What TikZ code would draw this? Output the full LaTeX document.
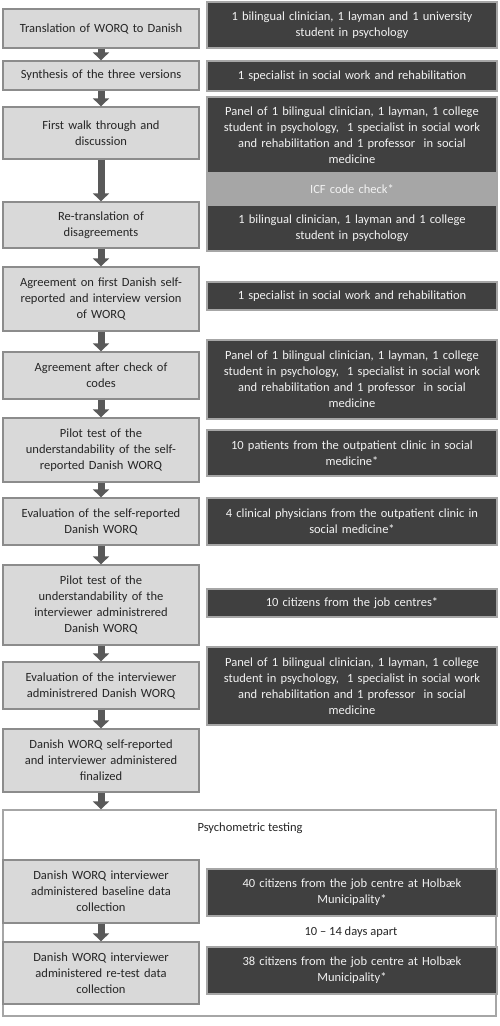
\documentclass[tikz,border=0pt]{standalone}
\usepackage{fontspec}
\setmainfont{Carlito}
\usetikzlibrary{arrows.meta}
\definecolor{lbox}{HTML}{D9D9D9}
\definecolor{lline}{HTML}{8C8C8C}
\definecolor{dbox}{HTML}{404040}
\definecolor{dline}{HTML}{A6A6A6}
\definecolor{icf}{HTML}{A6A6A6}
\definecolor{arr}{HTML}{595959}
\definecolor{ltext}{HTML}{262626}
\definecolor{dtext}{HTML}{F2F2F2}
\begin{document}
\begin{tikzpicture}[x=1pt,y=-1pt,
  every node/.style={font=\fontsize{12.5}{16}\selectfont, inner sep=0pt, align=center},
  stepbox/.style={draw=lline, line width=1.3pt, fill=lbox, text=ltext, minimum width=196pt, text width=186pt},
  infobox/.style={draw=dline, line width=1.3pt, fill=dbox, text=dtext, minimum width=290pt, text width=278pt},
  icfbox/.style={draw=dline, line width=1.3pt, fill=icf, text=dtext, minimum width=290pt, text width=278pt},
  outerbox/.style={draw=dline, line width=1.3pt, fill=white},
  flow/.style={draw=arr, line width=7pt, -{Triangle[width=16pt,length=8pt]}}
]
\useasboundingbox (0,0) rectangle (500,1026);
\fill[white] (0,0) rectangle (500,1026);

\node[outerbox, minimum width=493pt, minimum height=206pt] (psy) at (249.5,913) {};
\node[text=ltext] (psylab) at (250,828) {Psychometric testing};

% left column
\node[stepbox, minimum height=39pt] (L1) at (101,28.5) {Translation of WORQ to Danish};
\node[stepbox, minimum height=29pt] (L2) at (101,75.5) {Synthesis of the three versions};
\node[stepbox, minimum height=52pt] (L3) at (101,133) {First walk through and\\discussion};
\node[stepbox, minimum height=46pt] (L4) at (101,225) {Re-translation of\\disagreements};
\node[stepbox, minimum height=64pt] (L5) at (101,299) {Agreement on first Danish self-\\reported and interview version\\of WORQ};
\node[stepbox, minimum height=47pt] (L6) at (101,375.5) {Agreement after check of\\codes};
\node[stepbox, minimum height=64pt] (L7) at (101,450) {Pilot test of the\\understandability of the self-\\reported Danish WORQ};
\node[stepbox, minimum height=47pt] (L8) at (101,521.5) {Evaluation of the self-reported\\Danish WORQ};
\node[stepbox, minimum height=80pt] (L9) at (101,605) {Pilot test of the\\understandability of the\\interviewer administrered\\Danish WORQ};
\node[stepbox, minimum height=47pt] (L10) at (101,685.5) {Evaluation of the interviewer\\administrered Danish WORQ};
\node[stepbox, minimum height=63pt] (L11) at (101,760.5) {Danish WORQ self-reported\\and interviewer administered\\finalized};
\node[stepbox, minimum height=63pt] (L12) at (101,891.5) {Danish WORQ interviewer\\administered baseline data\\collection};
\node[stepbox, minimum height=62pt] (L13) at (101,973) {Danish WORQ interviewer\\administered re-test data\\collection};

% right column
\node[infobox, minimum height=46pt] (R1) at (352,25) {1 bilingual clinician, 1 layman and 1 university\\student in psychology};
\node[infobox, minimum height=30pt] (R2) at (352,76) {1 specialist in social work and rehabilitation};
\node[infobox, minimum height=76pt] (R3) at (352,135) {Panel of 1 bilingual clinician, 1 layman, 1 college\\student in psychology,\ \ 1 specialist in social work\\and rehabilitation and 1 professor\ \ in social\\medicine};
\node[icfbox, minimum height=32pt] (ICF) at (352,189) {ICF code check*};
\node[infobox, minimum height=46pt] (R4) at (352,228) {1 bilingual clinician, 1 layman and 1 college\\student in psychology};
\node[infobox, minimum height=28pt] (R5) at (352,296) {1 specialist in social work and rehabilitation};
\node[infobox, minimum height=79pt] (R6) at (352,379.5) {Panel of 1 bilingual clinician, 1 layman, 1 college\\student in psychology,\ \ 1 specialist in social work\\and rehabilitation and 1 professor\ \ in social\\medicine};
\node[infobox, minimum height=46pt] (R7) at (352,453) {10 patients from the outpatient clinic in social\\medicine*};
\node[infobox, minimum height=47pt] (R8) at (352,521.5) {4 clinical physicians from the outpatient clinic in\\social medicine*};
\node[infobox, minimum height=28pt] (R9) at (352,603) {10 citizens from the job centres*};
\node[infobox, minimum height=78pt] (R10) at (352,686) {Panel of 1 bilingual clinician, 1 layman, 1 college\\student in psychology,\ \ 1 specialist in social work\\and rehabilitation and 1 professor\ \ in social\\medicine};
\node[infobox, minimum height=47pt] (R12) at (352,892.5) {40 citizens from the job centre at Holbæk\\Municipality*};
\node[text=ltext] (gap) at (351,932) {10 – 14 days apart};
\node[infobox, minimum height=47pt] (R13) at (352,970.5) {38 citizens from the job centre at Holbæk\\Municipality*};

% arrows
\draw[flow] (L1.south) -- (L2.north);
\draw[flow] (L2.south) -- (L3.north);
\draw[flow] (L3.south) -- (L4.north);
\draw[flow] (L4.south) -- (L5.north);
\draw[flow] (L5.south) -- (L6.north);
\draw[flow] (L6.south) -- (L7.north);
\draw[flow] (L7.south) -- (L8.north);
\draw[flow] (L8.south) -- (L9.north);
\draw[flow] (L9.south) -- (L10.north);
\draw[flow] (L10.south) -- (L11.north);
\draw[flow] (L11.south) -- (L11.south |- psy.north);
\draw[flow] (L12.south) -- (L13.north);
\end{tikzpicture}
\end{document}
